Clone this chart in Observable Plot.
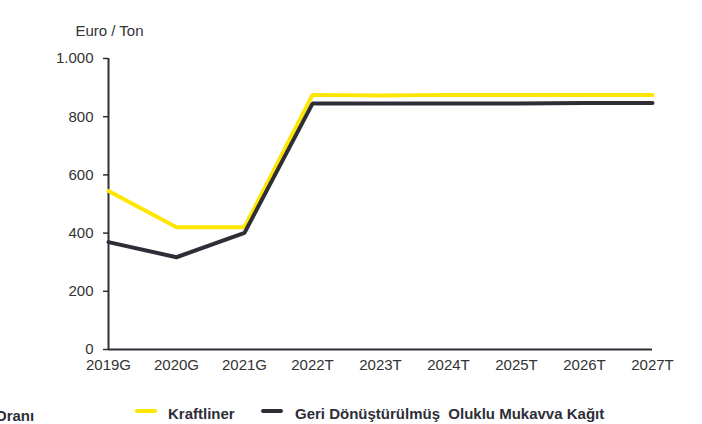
<!DOCTYPE html>
<html>
<head>
<meta charset="utf-8">
<script src="https://cdn.jsdelivr.net/npm/d3@7"></script>
<script src="https://cdn.jsdelivr.net/npm/@observablehq/plot@0.6"></script>
<style>
  html, body { margin: 0; padding: 0; background: #fff; }
  #wrap { position: relative; width: 702px; height: 424px; overflow: hidden; font-family: "Liberation Sans", Arial, sans-serif; }
  #chart svg { display: block; }
  .lg { position: absolute; font-weight: bold; font-size: 15px; color: #2e2e38; white-space: pre; line-height: 17px; }
  .sw { position: absolute; width: 22px; height: 4px; border-radius: 2px; }
</style>
</head>
<body>
<div id="wrap">
  <div id="chart"></div>
  <div id="legend"></div>
</div>
<script>
const years = ["2019G", "2020G", "2021G", "2022T", "2023T", "2024T", "2025T", "2026T", "2027T"];
const kraftliner = [545, 420, 420, 875, 873, 875, 875, 875, 875];
const geriDonusturulmus = [369, 317, 401, 845, 845, 845, 845, 847, 847];
const yTicks = [0, 200, 400, 600, 800, 1000];
const seriesNames = ["Kraftliner", "Geri Dönüştürülmüş  Oluklu Mukavva Kağıt"];
const seriesColors = ["#FFE600", "#2E2E38"];
const yAxisTitle = "Euro / Ton";
const cutText = "Oranı";

const rowsK = years.map((y, i) => ({year: y, value: kraftliner[i]}));
const rowsG = years.map((y, i) => ({year: y, value: geriDonusturulmus[i]}));

const chart = Plot.plot({
  width: 702,
  height: 385,
  marginLeft: 108,
  marginRight: 50,
  marginTop: 58,
  marginBottom: 36,
  style: {fontFamily: "'Liberation Sans', Arial, sans-serif", fontSize: "15px", color: "#333", background: "#fff", overflow: "visible"},
  x: {type: "point", domain: years, label: null, padding: 0},
  y: {domain: [0, 1000], label: null},
  marks: [
    Plot.axisX({tickSize: 0, tickPadding: 10, fill: "#333"}),
    Plot.axisY({ticks: yTicks, tickSize: 5, tickPadding: 10, strokeWidth: 1.5, stroke: "#2e2e38", fill: "#333",
      tickFormat: d => d3.format(",")(d).replace(/,/g, ".")}),
    Plot.ruleY([0], {stroke: "#2e2e38", strokeWidth: 2}),
    Plot.ruleX([years[0]], {stroke: "#2e2e38", strokeWidth: 2}),
    Plot.line(rowsK, {x: "year", y: "value", stroke: seriesColors[0], strokeWidth: 4, strokeLinecap: "round", strokeLinejoin: "miter"}),
    Plot.line(rowsG, {x: "year", y: "value", stroke: seriesColors[1], strokeWidth: 4, strokeLinecap: "round", strokeLinejoin: "miter"}),
    Plot.text([yAxisTitle], {frameAnchor: "top-left", dx: 1, dy: -33, textAnchor: "middle", fill: "#333", fontSize: 15})
  ]
});
document.getElementById("chart").appendChild(chart);

const lg = document.getElementById("legend");
function add(html) { lg.insertAdjacentHTML("beforeend", html); }
add(`<div class="lg" style="left:-5px; top:407px;">${cutText}</div>`);
add(`<div class="sw" style="left:135px; top:409px; background:${seriesColors[0]}"></div>`);
add(`<div class="lg" style="left:168px; top:405px;">${seriesNames[0]}</div>`);
add(`<div class="sw" style="left:261px; top:409px; background:${seriesColors[1]}"></div>`);
add(`<div class="lg" style="left:295px; top:405px;">${seriesNames[1]}</div>`);
</script>
</body>
</html>
